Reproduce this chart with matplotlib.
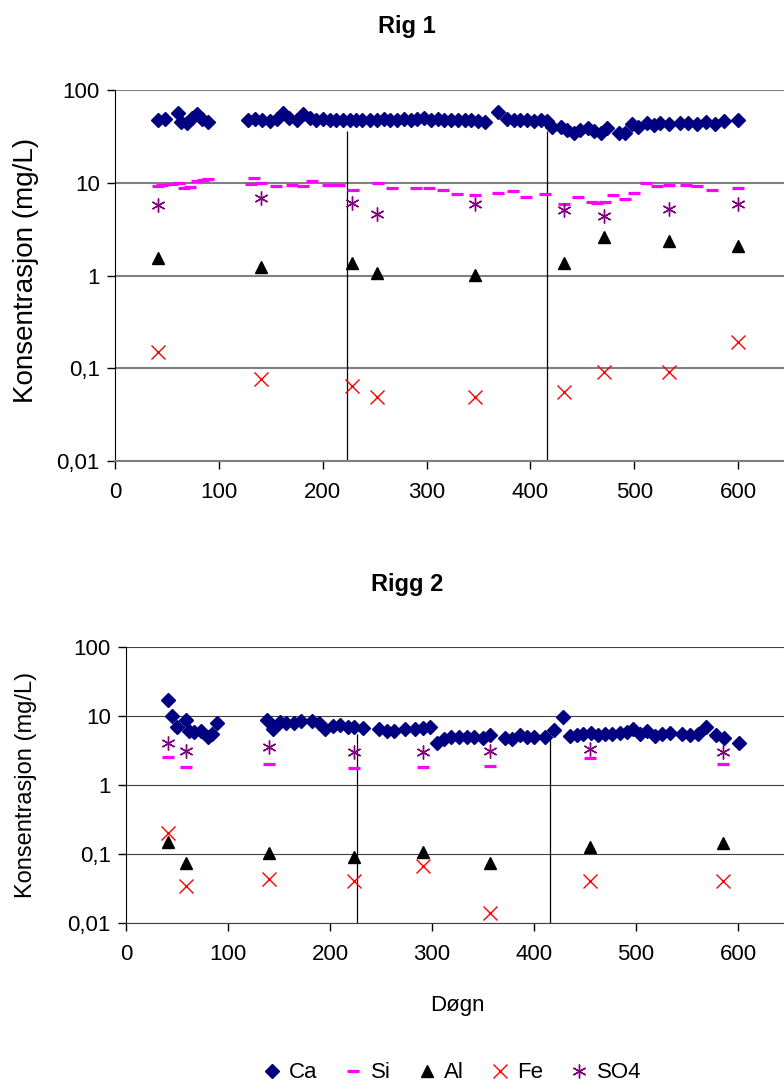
import matplotlib
matplotlib.use('Agg')
import matplotlib.pyplot as plt
from matplotlib.lines import Line2D

plt.rcParams['font.family'] = ['Liberation Sans', 'DejaVu Sans']

# ---- Rig 1 ----
r1_ca_days = [41, 48, 61, 64, 69, 74, 79, 84, 90,
              128, 135, 142, 149, 156, 162, 168, 175, 181, 188, 194, 200, 207, 213, 220, 226, 232, 238,
              246, 252, 259, 265, 272, 278, 285, 291, 298, 304, 311, 317, 324, 330, 337, 343, 350, 356,
              369, 377, 384, 390, 397, 403, 410, 416,
              421, 429, 435, 442, 448, 455, 461, 468, 474, 485, 491,
              498, 504, 512, 519, 525, 533, 544, 552, 560, 569, 578, 586, 600]
r1_ca = [47.6, 48.3, 56, 45.6, 43.7, 49.5, 55, 48.3, 45.6,
         48, 49, 47, 46, 49, 56, 50, 48, 55, 50, 47, 49, 47, 48, 48, 48, 48, 47,
         47, 48, 49, 48, 47, 49, 48, 49, 50, 48, 49, 47, 48, 48, 47, 47, 46, 45,
         58, 49, 47, 48, 47, 46, 48, 46,
         40, 40, 37, 34.4, 37, 38.5, 35.8, 34, 38.5, 34.7, 34.7,
         43, 40, 44.5, 42, 44.5, 43, 43.7, 44.5, 43, 45, 42.5, 46.5, 47.6]

r1_si_days = [41, 45, 55, 62, 66, 72, 79, 85, 90,
              131, 134, 141, 155, 170, 181, 190, 205, 216, 229, 253, 267, 290, 302, 316, 329, 347,
              369, 383, 396, 414, 432, 446, 459, 464, 472, 480, 491, 500, 511, 522, 533, 550, 560, 575, 600]
r1_si = [9.2, 9.4, 9.6, 10, 8.8, 9.0, 10.4, 10.8, 10.9,
         9.6, 11.2, 10, 9.2, 9.4, 9.2, 10.5, 9.4, 9.4, 8.35, 9.9, 8.7, 8.7, 8.8, 8.35, 7.6, 7.4,
         7.8, 8.1, 7.1, 7.6, 5.9, 7.1, 6.25, 6.1, 6.25, 7.3, 6.7, 7.8, 9.9, 9.2, 9.4, 9.4, 9.2, 8.35, 8.8]

r1_s_days = [41, 141, 228, 252, 347, 432, 471, 533, 600]
r1_al = [1.53, 1.22, 1.35, 1.06, 1.01, 1.35, 2.62, 2.36, 2.08]
r1_fe = [0.15, 0.076, 0.065, 0.049, 0.049, 0.055, 0.092, 0.092, 0.194]
r1_so4 = [5.75, 6.8, 6.1, 4.57, 5.9, 5.1, 4.4, 5.2, 5.9]

r1_events = [223, 416]
r1_event_top = [36, 36]

# ---- Rigg 2 ----
r2_ca_days = [41, 45, 50, 59, 62, 67, 74, 80, 84, 89,
              138, 144, 151, 157, 165, 172, 182, 189, 195, 203, 210, 218, 224, 232,
              248, 256, 263, 274, 283, 291, 298, 305, 312, 319, 326, 334, 341, 350, 357,
              372, 378, 386, 393, 400, 411, 420, 428,
              435, 442, 448, 456, 463, 470, 476, 484, 491, 497, 504, 511, 519, 525, 533,
              545, 553, 561, 569, 578, 586, 601]
r2_ca = [17, 10, 7.0, 8.75, 6.1, 5.9, 6.1, 5.0, 5.4, 8.0,
         8.75, 6.4, 8.3, 8.0, 8.0, 8.6, 8.6, 7.8, 6.4, 7.2, 7.4, 6.9, 7.0, 6.6,
         6.4, 6.1, 6.1, 6.4, 6.4, 6.6, 7.0, 4.1, 4.6, 4.9, 4.9, 5.0, 4.9, 4.75, 5.3,
         4.75, 4.6, 5.3, 4.9, 4.9, 4.9, 6.3, 9.6,
         5.1, 5.3, 5.5, 5.6, 5.3, 5.5, 5.5, 5.6, 5.9, 6.4, 5.5, 6.1, 5.1, 5.5, 5.6,
         5.5, 5.3, 5.5, 6.9, 5.3, 4.75, 4.1]

r2_s_days = [41, 59, 140, 224, 291, 357, 455, 585]
r2_si = [2.57, 1.84, 2.0, 1.75, 1.84, 1.88, 2.44, 2.0]
r2_so4 = [4.1, 3.14, 3.5, 2.98, 2.98, 3.1, 3.3, 2.98]
r2_al = [0.151, 0.073, 0.102, 0.091, 0.108, 0.073, 0.125, 0.143]
r2_fe = [0.204, 0.034, 0.043, 0.040, 0.067, 0.0138, 0.040, 0.041]

r2_events = [226, 416]
r2_event_top = [5.5, 6.3]

yticks = [0.01, 0.1, 1, 10, 100]
ytick_labels = ['0,01', '0,1', '1', '10', '100']
xticks = [0, 100, 200, 300, 400, 500, 600]

ca_style = dict(marker='D', color='#000080', ms=7, ls='none')
si_style = dict(marker='_', color='#FF00FF', ms=8, mew=2.3, ls='none')
al_style = dict(marker='^', color='black', ms=9, ls='none')
fe_style = dict(marker='x', color='#FF0000', ms=10, mew=1.0, ls='none')
so4_style = dict(marker=(6, 2, 0), color='#800080', ms=10, mew=1.0, ls='none')

FS = 16


def setup_axis(ax, grid_color, grid_lw):
    ax.set_yscale('log')
    ax.set_ylim(0.01, 100)
    ax.set_xlim(0, 650)
    ax.set_yticks(yticks)
    ax.set_yticklabels(ytick_labels)
    ax.minorticks_off()
    ax.set_xticks(xticks)
    ax.tick_params(axis='y', labelsize=FS, length=6, width=1, direction='out', pad=5)
    ax.tick_params(axis='x', labelsize=FS, length=6, width=1, direction='out', pad=9)
    ax.yaxis.grid(True, color=grid_color, lw=grid_lw)
    ax.set_axisbelow(True)
    for s in ['top', 'right']:
        ax.spines[s].set_visible(False)
    ax.spines['left'].set_color('black')
    ax.spines['bottom'].set_color(grid_color)
    ax.spines['bottom'].set_linewidth(grid_lw)


def plot_rig(ax, ca_days, ca, si_days, si, s_days, al, fe, so4, events, event_top):
    ax.vlines(events, 0.01, event_top, color='black', lw=0.9, zorder=1)
    ax.plot(ca_days, ca, **ca_style, zorder=3)
    ax.plot(si_days, si, **si_style, zorder=3)
    ax.plot(s_days, al, **al_style, zorder=3)
    ax.plot(s_days, fe, **fe_style, zorder=3)
    ax.plot(s_days, so4, **so4_style, zorder=3)


fig = plt.figure(figsize=(7.84, 10.84), dpi=100)

ax1 = fig.add_axes([115 / 784, 1 - 461 / 1084, (790 - 115) / 784, (461 - 90) / 1084])
setup_axis(ax1, '#808080', 1.5)
plot_rig(ax1, r1_ca_days, r1_ca, r1_si_days, r1_si, r1_s_days, r1_al, r1_fe, r1_so4,
         r1_events, r1_event_top)
ax1.set_ylabel('Konsentrasjon (mg/L)', fontsize=20, va='center', ha='center')
ax1.yaxis.set_label_coords(26 / 784, 1 - 270 / 1084, transform=fig.transFigure)

ax2 = fig.add_axes([126 / 784, 1 - 923 / 1084, (789 - 126) / 784, (923 - 647) / 1084])
setup_axis(ax2, '#404040', 0.8)
plot_rig(ax2, r2_ca_days, r2_ca, r2_s_days, r2_si, r2_s_days, r2_al, r2_fe, r2_so4,
         r2_events, r2_event_top)
ax2.set_ylabel('Konsentrasjon (mg/L)', fontsize=17, va='center', ha='center')
ax2.yaxis.set_label_coords(26 / 784, 1 - 785 / 1084, transform=fig.transFigure)
ax2.set_xlabel('Døgn', fontsize=FS, labelpad=22)

fig.text(407 / 784, 1 - 27 / 1084, 'Rig 1', ha='center', va='center', fontsize=17, fontweight='bold')
fig.text(407 / 784, 1 - 584 / 1084, 'Rigg 2', ha='center', va='center', fontsize=17, fontweight='bold')

handles = [Line2D([], [], **ca_style), Line2D([], [], **si_style), Line2D([], [], **al_style),
           Line2D([], [], **fe_style), Line2D([], [], **so4_style)]
labels = ['Ca', 'Si', 'Al', 'Fe', 'SO4']
fig.legend(handles, labels, loc='center', bbox_to_anchor=(452 / 784, 1 - 1073 / 1084), ncol=5,
           frameon=False, fontsize=FS, handlelength=0.8, handletextpad=0.4, columnspacing=1.2)

fig.savefig('out.png', dpi=100)
